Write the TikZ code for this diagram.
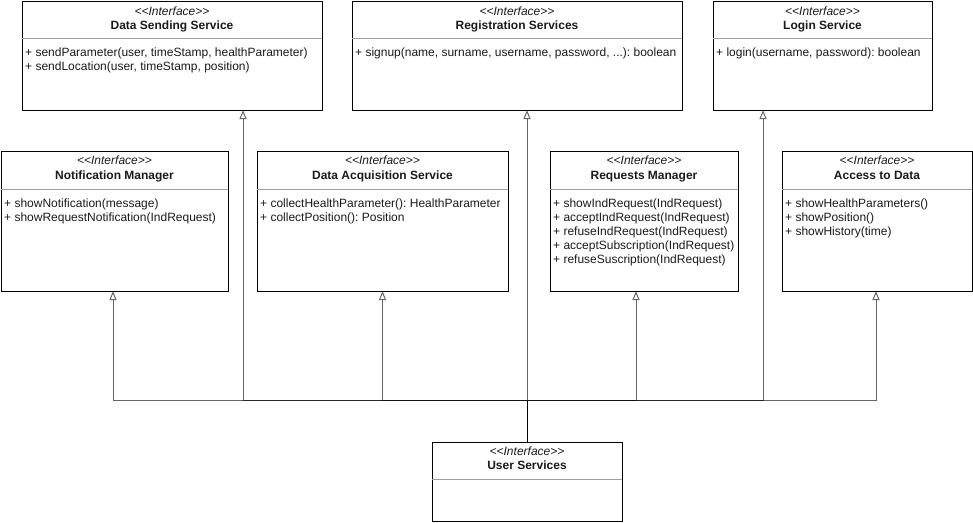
\documentclass[tikz,border=0pt]{standalone}
\usepackage{fontspec}
\setmainfont{Liberation Sans}
\usetikzlibrary{arrows.meta}
\definecolor{uml_border}{HTML}{000000}
\definecolor{uml_divider}{HTML}{A0A0A0}
\definecolor{uml_text}{HTML}{1A1A1A}
\frenchspacing

\begin{document}
\begin{tikzpicture}[
    x=1pt, y=-1pt,
    cls/.style={draw=uml_border, line width=0.9pt, anchor=north west, inner sep=0pt, outer sep=0pt},
    stereo/.style={font=\fontsize{12}{14}\selectfont\itshape, text=uml_text, anchor=base, inner sep=0pt},
    clstitle/.style={font=\fontsize{12}{14}\selectfont\bfseries, text=uml_text, anchor=base, inner sep=0pt},
    member/.style={font=\fontsize{12}{14}\selectfont, text=uml_text, anchor=base west, inner sep=0pt},
    divider/.style={uml_divider, line width=0.8pt},
    impl/.style={-{Triangle[open, length=9pt, width=7pt]}, line width=1pt, draw opacity=0.6}
]
\useasboundingbox (0,0) rectangle (973,522);

% ---------------------------------------------------------------
%  obere Reihe
% ---------------------------------------------------------------

% Data Sending Service
\node[cls, minimum width=300pt, minimum height=109pt] (dss) at (22,1) {};
\node[stereo] (dss-st) at (172,15) {<{}<Interface>{}>};
\node[clstitle] (dss-ti) at (172,29) {Data Sending Service};
\draw[divider] (22,38) -- (322,38);
\foreach \m [count=\i] in {{+ sendParameter(user, timeStamp, healthParameter)},
                           {+ sendLocation(user, timeStamp, position)}}
    \node[member] (dss-m\i) at (25, 42+14*\i) {\m};

% Registration Services
\node[cls, minimum width=330pt, minimum height=109pt] (reg) at (352,1) {};
\node[stereo] (reg-st) at (517,15) {<{}<Interface>{}>};
\node[clstitle] (reg-ti) at (517,29) {Registration Services};
\draw[divider] (352,38) -- (682,38);
\node[member] (reg-m1) at (355,56) {+ signup(name, surname, username, password, ...): boolean};

% Login Service
\node[cls, minimum width=219pt, minimum height=109pt] (login) at (713,1) {};
\node[stereo] (login-st) at (822.5,15) {<{}<Interface>{}>};
\node[clstitle] (login-ti) at (822.5,29) {Login Service};
\draw[divider] (713,38) -- (932,38);
\node[member] (login-m1) at (716,56) {+ login(username, password): boolean};

% ---------------------------------------------------------------
%  mittlere Reihe
% ---------------------------------------------------------------

% Notification Manager
\node[cls, minimum width=227pt, minimum height=140pt] (notif) at (1,151) {};
\node[stereo] (notif-st) at (114.5,164) {<{}<Interface>{}>};
\node[clstitle] (notif-ti) at (114.5,179) {Notification Manager};
\draw[divider] (1,189) -- (228,189);
\foreach \m [count=\i] in {{+ showNotification(message)},
                           {+ showRequestNotification(IndRequest)}}
    \node[member] (notif-m\i) at (4, 193+14*\i) {\m};

% Data Acquisition Service
\node[cls, minimum width=251pt, minimum height=140pt] (acq) at (257,151) {};
\node[stereo] (acq-st) at (382.5,164) {<{}<Interface>{}>};
\node[clstitle] (acq-ti) at (382.5,179) {Data Acquisition Service};
\draw[divider] (257,189) -- (508,189);
\foreach \m [count=\i] in {{+ collectHealthParameter(): HealthParameter},
                           {+ collectPosition(): Position}}
    \node[member] (acq-m\i) at (260, 193+14*\i) {\m};

% Requests Manager
\node[cls, minimum width=188pt, minimum height=140pt] (req) at (550,151) {};
\node[stereo] (req-st) at (644,164) {<{}<Interface>{}>};
\node[clstitle] (req-ti) at (644,179) {Requests Manager};
\draw[divider] (550,189) -- (738,189);
\foreach \m [count=\i] in {{+ showIndRequest(IndRequest)},
                           {+ acceptIndRequest(IndRequest)},
                           {+ refuseIndRequest(IndRequest)},
                           {+ acceptSubscription(IndRequest)},
                           {+ refuseSuscription(IndRequest)}}
    \node[member] (req-m\i) at (553, 193+14*\i) {\m};

% Access to Data
\node[cls, minimum width=190pt, minimum height=140pt] (access) at (782,151) {};
\node[stereo] (access-st) at (877,164) {<{}<Interface>{}>};
\node[clstitle] (access-ti) at (877,179) {Access to Data};
\draw[divider] (782,189) -- (972,189);
\foreach \m [count=\i] in {{+ showHealthParameters()},
                           {+ showPosition()},
                           {+ showHistory(time)}}
    \node[member] (access-m\i) at (785, 193+14*\i) {\m};

% ---------------------------------------------------------------
%  User Services
% ---------------------------------------------------------------
\node[cls, minimum width=190pt, minimum height=79pt] (user) at (432,442) {};
\node[stereo] (user-st) at (527,455) {<{}<Interface>{}>};
\node[clstitle] (user-ti) at (527,469) {User Services};
\draw[divider] (432,479) -- (622,479);

% Realisierungen
\coordinate (bus) at (527,400);
\draw[impl] (user.north) -- ([xshift=10pt]reg.south);
\foreach \dst/\dx in {notif/-1.5, dss/71, acq/0, req/-8, login/-59.5, access/-1}
    \draw[impl] (user.north) -- (bus) -| ([xshift=\dx pt]\dst.south);

\end{tikzpicture}
\end{document}
